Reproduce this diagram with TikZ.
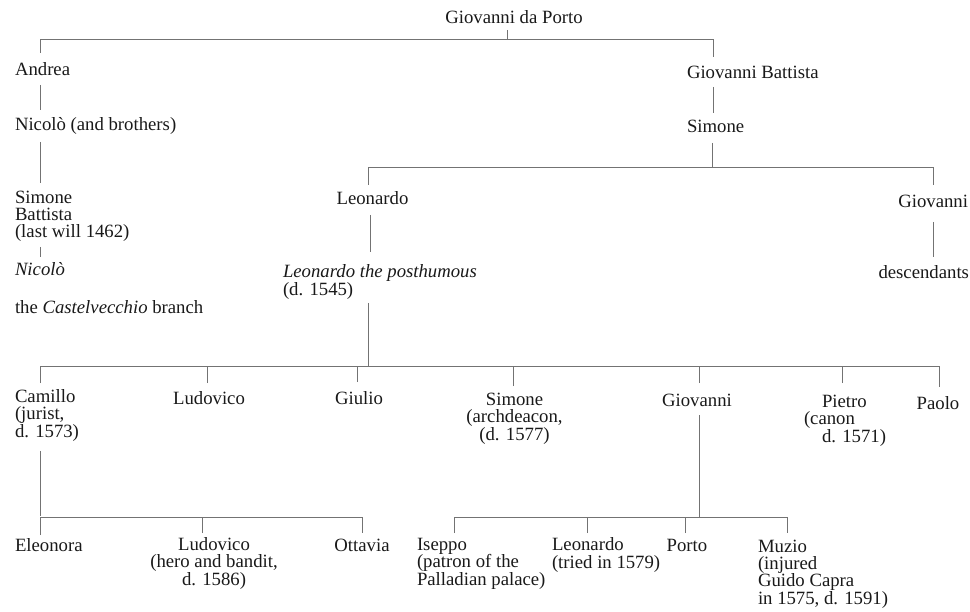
\documentclass[tikz,border=0pt]{standalone}
\usepackage{fontspec}
\setmainfont{Liberation Serif}
\usepackage{tikz}
\usetikzlibrary{positioning,calc}
\newcommand{\treefont}{\fontsize{18.8}{17.1}\selectfont\lineskiplimit=-20pt\relax}

\begin{document}
\begin{tikzpicture}[x=1bp,y=-1bp,every node/.style={font=\treefont}]
\tikzstyle{person}=[inner sep=0pt,outer sep=0pt,text=black!90]
\tikzstyle{link}=[draw=black!55,line width=0.8bp]
\useasboundingbox (0,0) rectangle (970,612);
% founder and first generations
\node[person,anchor=base] (gdp) at (514,24) {Giovanni da Porto};
\node[person,anchor=base west] (andrea) at (15,76) {Andrea};
\node[person,anchor=base west] (nicolo) at (15,131) {Nicolò (and brothers)};
\node[person,anchor=base west,align=left] (simbat) at (15,238) {Simone\\Battista\\(last will 1462)};
\node[person,anchor=base west] (nicolit) at (15,276) {\textit{Nicolò}};
\node[person,anchor=base west] (castel) at (15,313) {the \textit{Castelvecchio} branch};
\node[person,anchor=base west] (gbatt) at (687,79) {Giovanni Battista};
\node[person,anchor=base west] (simone) at (687,133) {Simone};
\node[person,anchor=base] (leo) at (372.5,205) {Leonardo};
\node[person,anchor=base east] (giov) at (968,208) {Giovanni};
\node[person,anchor=base east] (desc) at (969,279) {descendants};
\node[person,anchor=base west,align=left] (leopost) at (283,295) {\textit{Leonardo the posthumous}\\(d. 1545)};
% children of Leonardo the posthumous
\node[person,anchor=base west,align=left] (camillo) at (15,437) {Camillo\\(jurist,\\d. 1573)};
\node[person,anchor=base] (ludo) at (209,404) {Ludovico};
\node[person,anchor=base] (giulio) at (359,404) {Giulio};
\node[person,anchor=base,align=center] (simarch) at (514.5,440) {Simone\\(archdeacon,\\(d. 1577)};
\node[person,anchor=base] (giovb) at (697,406) {Giovanni};
\node[person,anchor=base west,align=left] (pietro) at (804,442) {\hspace{18bp}Pietro\\(canon\\\hspace{18bp}d. 1571)};
\node[person,anchor=base] (paolo) at (938,409) {Paolo};
% grandchildren
\node[person,anchor=base west] (eleonora) at (15,551) {Eleonora};
\node[person,anchor=base,align=center] (ludob) at (214,585) {Ludovico\\(hero and bandit,\\d. 1586)};
\node[person,anchor=base] (ottavia) at (362,551) {Ottavia};
\node[person,anchor=base west,align=left] (iseppo) at (417,585) {Iseppo\\(patron of the\\Palladian palace)};
\node[person,anchor=base west,align=left] (leob) at (552,568) {Leonardo\\(tried in 1579)};
\node[person,anchor=base] (porto) at (687,551) {Porto};
\node[person,anchor=base west,align=left] (muzio) at (758,604) {Muzio\\(injured\\Guido Capra\\in 1575, d. 1591)};
% lines
\draw[link] ([shift={(-7,6)}]gdp.base) -- ++(0,9);
\draw[link] ([shift={(25,-23)}]andrea.base west) |- ([shift={(26,-40)}]gbatt.base west) -- ++(0,18);
\draw[link] ([shift={(25,9)}]andrea.base west) -- ([shift={(25,-21)}]nicolo.base west);
\draw[link] ([shift={(25,11)}]nicolo.base west) -- ([shift={(25,-55)}]simbat.base west);
\draw[link] ([shift={(25,5)}]simbat.south west) -- ([shift={(25,-19)}]nicolit.base west);
\draw[link] ([shift={(26,8)}]gbatt.base west) -- ([shift={(26,-20)}]simone.base west);
\draw[link] ([shift={(25,10)}]simone.base west) -- ++(0,24);
\draw[link] ([shift={(-4.5,-20)}]leo.base) |- ([shift={(-35,-41)}]giov.base east) -- ++(0,18);
\draw[link] ([shift={(-2.5,10)}]leo.base) -- ([shift={(87,-43)}]leopost.base west);
\draw[link] ([shift={(-35,14)}]giov.base east) -- ([shift={(-36,-22)}]desc.base east);
\draw[link] ([shift={(85,4)}]leopost.south west) -- ++(0,64);
\draw[link] ([shift={(25,-54)}]camillo.base west) |- ([shift={(1,-43)}]paolo.base) -- ++(0,21);
\draw[link] ([shift={(-2,-21)}]ludo.base) -- ++(0,-17);
\draw[link] ([shift={(-2,-22)}]giulio.base) -- ++(0,-16);
\draw[link] ([shift={(-1.5,-54)}]simarch.base) -- ++(0,-20);
\draw[link] ([shift={(2,-23)}]giovb.base) -- ++(0,-17);
\draw[link] ([shift={(38,-59)}]pietro.base west) -- ++(0,-17);
\draw[link] ([shift={(2,9)}]giovb.base) -- ++(0,102);
\draw[link] ([shift={(37,-52)}]iseppo.base west) |- ([shift={(29,-87)}]muzio.base west) -- ++(0,16);
\draw[link] ([shift={(35,-35)}]leob.base west) -- ++(0,-16);
\draw[link] ([shift={(-2,-18)}]porto.base) -- ++(0,-16);
\draw[link] ([shift={(25,10)}]camillo.south west) -- ++(0,65);
\draw[link] ([shift={(25,-16)}]eleonora.base west) |- ([shift={(0,-34)}]ottavia.base) -- ++(0,16);
\draw[link] ([shift={(-12,-52)}]ludob.base) -- ++(0,-16);
\end{tikzpicture}
\end{document}
